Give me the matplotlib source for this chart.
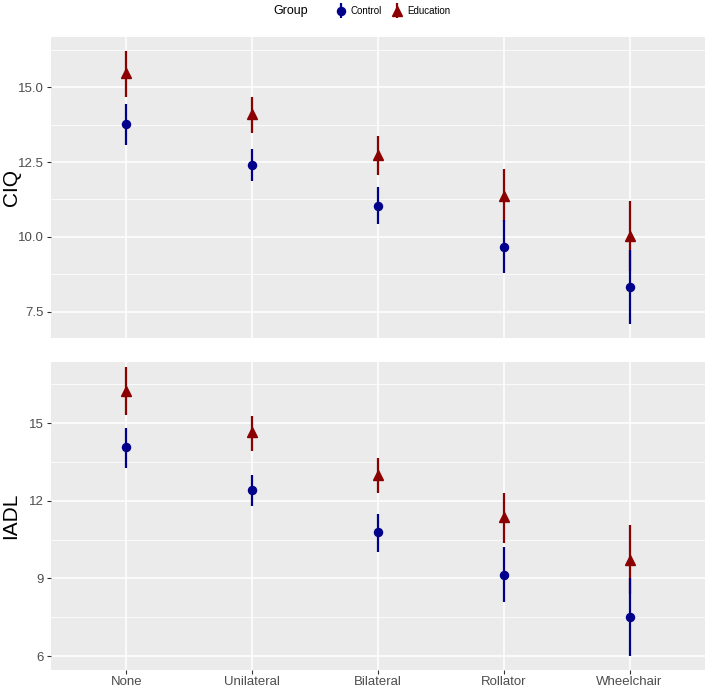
import matplotlib
matplotlib.use("Agg")
import matplotlib.pyplot as plt
import numpy as np
from matplotlib.ticker import FixedLocator
from matplotlib.legend_handler import HandlerErrorbar

plt.rcParams['font.family'] = ['Liberation Sans', 'DejaVu Sans']

categories = ["None", "Unilateral", "Bilateral", "Rollator", "Wheelchair"]
groups = ["Control", "Education"]

# CIQ panel
ciq_control = [13.77, 12.40, 11.04, 9.67, 8.32]
ciq_control_lo = [13.07, 11.87, 10.42, 8.78, 7.08]
ciq_control_hi = [14.44, 12.94, 11.68, 10.56, 9.57]
ciq_edu = [15.47, 14.10, 12.74, 11.37, 10.03]
ciq_edu_lo = [14.69, 13.48, 12.07, 10.50, 8.85]
ciq_edu_hi = [16.21, 14.69, 13.38, 12.26, 11.21]

# IADL panel
iadl_control = [14.07, 12.42, 10.79, 9.15, 7.50]
iadl_control_lo = [13.26, 11.81, 10.04, 8.07, 6.00]
iadl_control_hi = [14.83, 13.00, 11.49, 10.21, 9.01]
iadl_edu = [16.26, 14.65, 13.00, 11.37, 9.72]
iadl_edu_lo = [15.32, 13.94, 12.29, 10.36, 8.38]
iadl_edu_hi = [17.16, 15.27, 13.65, 12.32, 11.06]

ciq_ticks = [7.5, 10.0, 12.5, 15.0]
ciq_ticklabels = ["7.5", "10.0", "12.5", "15.0"]
ciq_minor = [8.75, 11.25, 13.75, 16.25]
iadl_ticks = [6, 9, 12, 15]
iadl_ticklabels = ["6", "9", "12", "15"]
iadl_minor = [7.5, 10.5, 13.5, 16.5]

ctrl_color = "#00008B"
edu_color = "#8B0000"
bg = "#EBEBEB"

W, H = 709, 687
fig = plt.figure(figsize=(W / 100, H / 100), dpi=100)

def ax_rect(left, top, right, bottom):
    return [left / W, 1 - bottom / H, (right - left) / W, (bottom - top) / H]

ax1 = fig.add_axes(ax_rect(51, 36.7, 705, 338))
ax2 = fig.add_axes(ax_rect(51, 361.7, 705, 670))

x = np.arange(1, len(categories) + 1)

def draw(ax, c, clo, chi, e, elo, ehi, ticks, ticklabels, minor, ylim, ylabel):
    ax.set_facecolor(bg)
    for s in ax.spines.values():
        s.set_visible(False)
    ax.set_xlim(0.4, 5.6)
    ax.set_ylim(*ylim)
    ax.yaxis.set_major_locator(FixedLocator(ticks))
    ax.set_yticklabels(ticklabels)
    ax.yaxis.set_minor_locator(FixedLocator(minor))
    ax.set_xticks(x)
    ax.grid(True, which='major', color='white', linewidth=1.1)
    ax.grid(True, which='minor', axis='y', color='white', linewidth=0.55)
    ax.set_axisbelow(True)
    ax.tick_params(which='major', length=3, width=0.8, color='#333333', labelcolor='#4D4D4D',
                   labelsize=9.5, pad=2)
    ax.tick_params(which='minor', length=0)
    e = np.array(e); c = np.array(c)
    he = ax.errorbar(x, e, yerr=[e - np.array(elo), np.array(ehi) - e], fmt='^', color=edu_color,
                     ecolor=edu_color, elinewidth=1.6, markersize=7.5, capsize=0, zorder=3)
    hc = ax.errorbar(x, c, yerr=[c - np.array(clo), np.array(chi) - c], fmt='o', color=ctrl_color,
                     ecolor=ctrl_color, elinewidth=1.6, markersize=5.8, capsize=0, zorder=4)
    ax.set_ylabel(ylabel, fontsize=15, color='black')
    ax.yaxis.label.set_verticalalignment('center')
    ax.yaxis.set_label_coords(-40 / (705 - 51), 0.5)
    return hc, he

hc, he = draw(ax1, ciq_control, ciq_control_lo, ciq_control_hi, ciq_edu, ciq_edu_lo, ciq_edu_hi,
              ciq_ticks, ciq_ticklabels, ciq_minor, (6.62, 16.69), "CIQ")
draw(ax2, iadl_control, iadl_control_lo, iadl_control_hi, iadl_edu, iadl_edu_lo, iadl_edu_hi,
     iadl_ticks, iadl_ticklabels, iadl_minor, (5.46, 17.38), "IADL")

ax1.tick_params(axis='x', which='both', length=0, labelbottom=False)
ax2.set_xticklabels(categories)
ax2.tick_params(axis='x', pad=1.5)

fig.text(308 / W, 1 - 11 / H, "Group", fontsize=9, ha='right', va='center')
hmap = {hc: HandlerErrorbar(xerr_size=0, yerr_size=0.78),
        he: HandlerErrorbar(xerr_size=0, yerr_size=0.78)}
leg = fig.legend([hc, he], groups, loc='center left', bbox_to_anchor=(334 / W, 1 - 11 / H),
                 ncol=2, frameon=False, fontsize=7, handlelength=1.4, handletextpad=0.3,
                 columnspacing=0.9, borderpad=0, borderaxespad=0, handler_map=hmap)

fig.savefig("out.png", dpi=100)
